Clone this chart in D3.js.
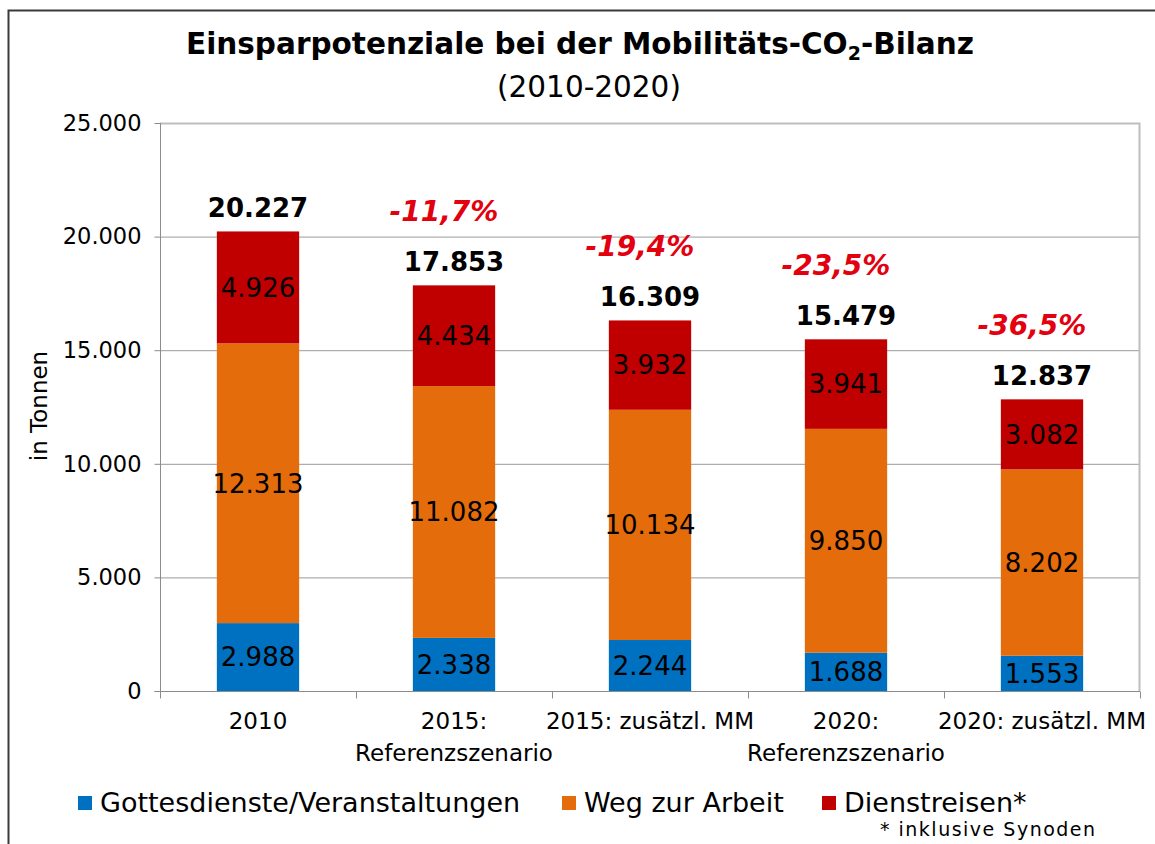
<!DOCTYPE html>
<html>
<head>
<meta charset="utf-8">
<script src="https://cdn.jsdelivr.net/npm/d3@7"></script>
<style>
  html, body { margin: 0; padding: 0; background: #fff; }
  svg { display: block; font-family: "DejaVu Sans", Verdana, sans-serif; }
</style>
</head>
<body>
<svg id="chart" width="1155" height="844"></svg>
<script>
// ---- data ----
const categories = ["2010", "2015:\nReferenzszenario", "2015: zusätzl. MM", "2020:\nReferenzszenario", "2020: zusätzl. MM"];
const seriesNames = ["Gottesdienste/Veranstaltungen", "Weg zur Arbeit", "Dienstreisen*"];
const gottesdienste = [2988, 2338, 2244, 1688, 1553];
const wegZurArbeit = [12313, 11082, 10134, 9850, 8202];
const dienstreisen = [4926, 4434, 3932, 3941, 3082];
const totals = [20227, 17853, 16309, 15479, 12837];
const changeLabels = [null, "-11,7%", "-19,4%", "-23,5%", "-36,5%"];
const yTicks = [0, 5000, 10000, 15000, 20000, 25000];
const colors = ["#0070c0", "#e46c0a", "#c00000"];

const de = d3.formatLocale({decimal: ",", thousands: ".", grouping: [3], currency: ["", " €"]});
const fmt = de.format(",.0f");

const svg = d3.select("#chart");
const W = 1155, H = 844;
const margin = {left: 160, right: 15, top: 123, bottom: 153};
const plotL = margin.left, plotR = W - margin.right, plotT = margin.top, plotB = H - margin.bottom;

// outer frame
svg.append("rect").attr("x", 8.5).attr("y", 10.5).attr("width", W + 20).attr("height", H + 20)
  .attr("fill", "none").attr("stroke", "#3a3a3a").attr("stroke-width", 2);

const x = d3.scaleBand().domain(categories).range([plotL, plotR]).paddingInner(0.58).paddingOuter(0.29);
const xb = d3.scaleLinear().domain([0, categories.length]).range([plotL, plotR]);
const y = d3.scaleLinear().domain([0, 25000]).range([plotB, plotT]);

// gridlines
svg.append("g").selectAll("line").data(yTicks.filter(d => d > 0 && d < 25000)).join("line")
  .attr("x1", plotL).attr("x2", plotR).attr("y1", d => y(d) + 0.5).attr("y2", d => y(d) + 0.5)
  .attr("stroke", "#9a9a9a").attr("stroke-width", 1);

// plot border (top & right)
svg.append("path")
  .attr("d", `M${plotL},${y(25000) + 0.5}H${plotR - 0.5}V${plotB}`)
  .attr("fill", "none").attr("stroke", "#bdbdbd").attr("stroke-width", 2);

// stacked data
const stackData = categories.map((c, i) => ({cat: c, s0: gottesdienste[i], s1: wegZurArbeit[i], s2: dienstreisen[i]}));
const layers = d3.stack().keys(["s0", "s1", "s2"])(stackData);

const gBars = svg.append("g");
layers.forEach((layer, li) => {
  gBars.append("g").attr("fill", colors[li]).selectAll("rect").data(layer).join("rect")
    .attr("x", d => x(d.data.cat)).attr("width", x.bandwidth())
    .attr("y", d => y(d[1])).attr("height", d => y(d[0]) - y(d[1]));
  gBars.append("g").selectAll("text").data(layer).join("text")
    .attr("x", d => x(d.data.cat) + x.bandwidth() / 2)
    .attr("y", d => (y(d[0]) + y(d[1])) / 2)
    .attr("dy", "0.36em")
    .attr("text-anchor", "middle").attr("font-size", 26).attr("fill", "#000")
    .text(d => fmt(d[1] - d[0]));
});

// axes
const yAxis = d3.axisLeft(y).tickValues(yTicks).tickFormat(fmt).tickSize(6).tickPadding(13);
const gy = svg.append("g").attr("transform", `translate(${plotL + 0.5},0)`).call(yAxis);
gy.select(".domain").attr("stroke", "#8c8c8c").attr("d", `M-6,${plotB + 0.5}H0V${plotT}`);
gy.selectAll(".tick line").attr("stroke", "#8c8c8c");
gy.selectAll(".tick text").attr("font-size", 22.5).attr("fill", "#000").attr("font-family", "DejaVu Sans, sans-serif");

const xAxisTicks = d3.axisBottom(xb).tickValues(d3.range(categories.length + 1)).tickFormat("").tickSize(7).tickSizeOuter(0);
const gx = svg.append("g").attr("transform", `translate(0,${plotB + 0.5})`).call(xAxisTicks);
gx.select(".domain").attr("stroke", "#8c8c8c").attr("d", `M${plotL},0H${plotR}`);
gx.selectAll(".tick line").attr("stroke", "#8c8c8c");

const xAxisLabels = d3.axisBottom(x).tickSize(0).tickPadding(0);
const gxl = svg.append("g").attr("transform", `translate(0,${plotB})`).call(xAxisLabels);
gxl.select(".domain").remove();
gxl.selectAll(".tick text").each(function(d) {
  const t = d3.select(this).text(null).attr("y", 0).attr("dy", null)
    .attr("font-size", 23).attr("fill", "#000").attr("font-family", "DejaVu Sans, sans-serif");
  d.split("\n").forEach((line, k) => {
    t.append("tspan").attr("x", 0).attr("y", 38 + k * 32).text(line);
  });
});

// y label
svg.append("text").attr("transform", `translate(47,406) rotate(-90)`)
  .attr("text-anchor", "middle").attr("font-size", 23).attr("fill", "#000").text("in Tonnen");

// totals
svg.append("g").selectAll("text").data(categories).join("text")
  .attr("x", d => x(d) + x.bandwidth() / 2)
  .attr("y", (d, i) => y(totals[i]) - 14)
  .attr("text-anchor", "middle").attr("font-size", 26).attr("font-weight", "bold").attr("fill", "#000")
  .text((d, i) => fmt(totals[i]));

// change labels
svg.append("g").selectAll("text").data(categories.filter((d, i) => changeLabels[i])).join("text")
  .attr("x", d => x(d) + x.bandwidth() / 2 - 10)
  .attr("y", d => y(totals[categories.indexOf(d)]) - 64)
  .attr("text-anchor", "middle").attr("font-size", 28).attr("font-weight", "bold").attr("font-style", "italic")
  .attr("fill", "#e3000f")
  .text(d => changeLabels[categories.indexOf(d)]);

// title
const title = svg.append("text").attr("x", 580).attr("y", 54).attr("text-anchor", "middle")
  .attr("font-size", 29.5).attr("font-weight", "bold").attr("fill", "#000");
title.append("tspan").text("Einsparpotenziale bei der Mobilitäts-CO");
title.append("tspan").attr("font-size", 19).attr("dy", 6).text("2");
title.append("tspan").attr("dy", -6).text("-Bilanz");
svg.append("text").attr("x", 589).attr("y", 97).attr("text-anchor", "middle")
  .attr("font-size", 29.5).attr("fill", "#000").text("(2010-2020)");

// legend
const legendX = [78, 562, 822];
const gl = svg.append("g");
seriesNames.forEach((name, i) => {
  gl.append("rect").attr("x", legendX[i]).attr("y", 796).attr("width", 14).attr("height", 14).attr("fill", colors[i]);
  gl.append("text").attr("x", legendX[i] + 22).attr("y", 812).attr("font-size", 27).attr("fill", "#000").text(name);
});
svg.append("text").attr("x", 880).attr("y", 836).attr("font-size", 19).attr("letter-spacing", 1.5)
  .attr("fill", "#000").text("* inklusive Synoden");
</script>
</body>
</html>
